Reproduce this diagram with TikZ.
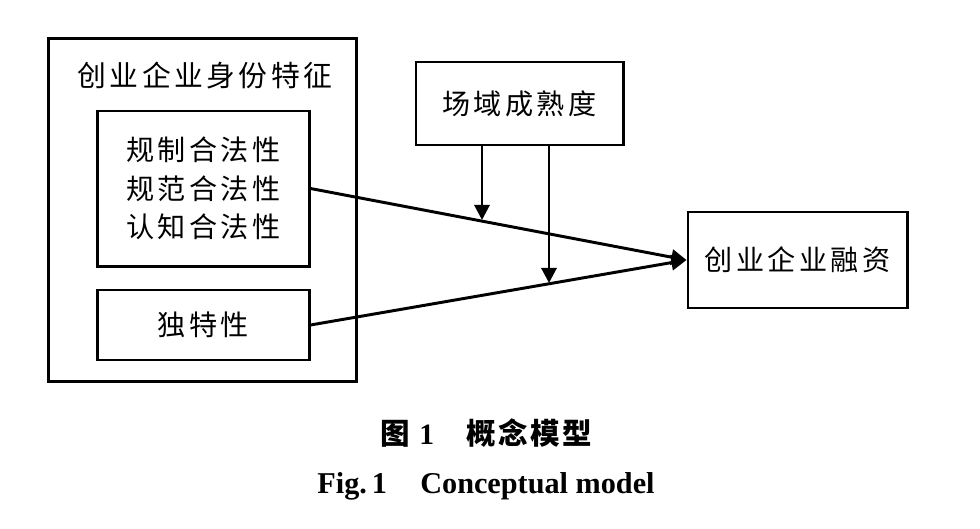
\documentclass[tikz,border=0pt]{standalone}
\usepackage{fontspec}
\setmainfont{Liberation Serif}
\newfontfamily\cjk[LetterSpace=12]{Noto Sans CJK SC}
\newfontfamily\cjkcap[LetterSpace=8]{Noto Sans CJK SC}
\usepackage{tikz}
\usetikzlibrary{arrows.meta,positioning}

\begin{document}
\begin{tikzpicture}
[x=0.025cm,y=-0.025cm,align=center,line width=2.1pt,
 font=\cjk\fontsize{20}{27.5}\selectfont]
\tikzstyle{plain}=[draw,fill=white,inner sep=0pt]
\tikzstyle{arr}=[-{Triangle[length=0.38cm,width=0.38cm]}]

\useasboundingbox (0,0) rectangle (980,528);

% outer frame and its title
\draw node [plain,minimum width=7.675cm,minimum height=8.55cm] (ident) at (202.5,210) {};
\draw node [font=\cjk\fontsize{20.5}{24}\selectfont] (identtitle) at (205,76) {创业企业身份特征};

\draw node [plain,minimum width=5.275cm,minimum height=3.875cm] (legit) at (203.5,188.5) {规制合法性\\规范合法性\\认知合法性};
\draw node [plain,minimum width=5.275cm,minimum height=1.75cm] (uniq) at (203.5,325) {独特性};

\draw node [plain,minimum width=5.175cm,minimum height=2.075cm] (field) at (519.5,103.5) {场域成熟度};
\draw node [plain,minimum width=5.475cm,minimum height=2.4cm] (fin) at (797.5,260) {创业企业融资};

% where the moderating arrows meet the paths
\coordinate (m1) at (482,220);
\coordinate (m2) at (549,283);

\draw [arr] (legit.east) -- (fin.west);
\draw [arr] (uniq.east) -- (fin.west);
\draw [arr] (field.south -| m1) -- (m1);
\draw [arr] (field.south -| m2) -- (m2);

% caption
\draw node [font=\fontsize{21}{24}\selectfont] (capcn) at (486,433)
  {{\cjkcap\bfseries 图} \textbf{1}\hspace{1.1em}{\cjkcap\bfseries 概念模型}};
\draw node [font=\bfseries\fontsize{21.5}{24}\selectfont] (capen) at (486,486)
  {Fig.\,1\hspace{1.1em}Conceptual model};
\end{tikzpicture}
\end{document}
